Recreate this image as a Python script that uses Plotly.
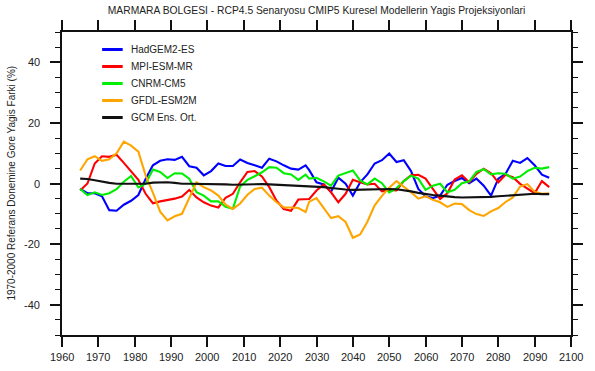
import plotly.graph_objects as go

# Centred 10-year running means, 1965-2094
years = list(range(1965, 2028, 2)) + list(range(2028, 2095, 2))

hadgem2_es = [-1.8, -3.2, -3.2, -4.2, -8.8, -9.0, -7.0, -5.7, -3.8, 1.5, 6.0, 7.5, 8.0, 7.8, 8.8, 5.7,
              5.2, 2.7, 4.1, 6.6, 5.8, 5.8, 7.9, 6.8, 6.0, 5.2, 8.2, 7.3, 6.0, 4.9, 4.6, 6.0,
              4.4, 0.4, -0.3, -2.7, 1.9, -0.1, -4.0, 0.4, 3.0, 6.6, 7.7, 9.9, 7.1, 7.7, 4.1, -1.8,
              -4.2, -4.8, -4.0, -0.4, 0.8, 1.8, 0.1, 1.6, -0.7, -4.0, 1.6, 3.2, 7.5, 6.8, 8.4, 6.0,
              2.9, 1.9]
mpi_esm_mr = [-2.3, 0.0, 6.6, 9.0, 8.8, 9.5, 6.8, 4.0, 1.2, -3.4, -6.5, -5.9, -5.5, -5.0, -4.3, -2.1,
              -4.6, -6.2, -7.3, -7.9, -4.7, -3.4, 0.4, 3.8, 4.1, 2.3, -1.2, -5.7, -8.4, -9.0, -5.3, -5.0,
              -5.1, -2.3, -0.3, -2.9, -6.2, -3.4, 1.2, 0.4, -0.3, -0.1, -2.6, -2.1, -2.3, 0.8, 2.7, 2.9,
              1.6, -1.8, -5.1, -3.2, 1.3, 2.7, 0.4, 3.2, 4.9, 3.4, 0.4, 2.9, 2.1, -0.1, -1.8, -3.2,
              0.8, -1.2]
cnrm_cm5 = [-1.8, -3.8, -2.9, -3.8, -3.2, -1.9, 0.6, 2.5, -1.3, -0.1, 4.6, 3.8, 1.8, 3.4, 3.3, 1.6,
            -2.9, -4.0, -5.9, -5.9, -7.7, -8.3, -1.0, 1.2, 2.4, 3.7, 5.4, 5.2, 3.4, 3.0, 1.2, 2.9,
            1.6, 1.9, 0.7, -0.7, 2.6, 3.4, 4.3, 1.0, -0.3, 1.6, 0.1, -2.9, -1.6, 0.8, 2.6, 1.6,
            -2.1, -0.7, -0.1, -2.9, -2.1, 0.1, 0.7, 3.8, 4.7, 3.0, 3.4, 3.2, 1.6, 2.3, 4.1, 5.2,
            4.9, 5.4]
gfdl_esm2m = [4.3, 8.0, 9.0, 7.5, 8.0, 10.0, 13.8, 12.5, 10.5, 2.7, -3.0, -9.3, -12.2, -10.8, -10.0, -4.6,
              0.4, -1.2, -2.3, -4.0, -7.0, -8.4, -6.6, -3.7, -1.8, -1.4, -4.0, -6.2, -7.9, -7.9, -8.1, -9.4,
              -6.0, -4.8, -7.9, -11.4, -10.8, -12.7, -17.9, -16.8, -12.6, -7.2, -4.1, -1.4, 0.8, -1.0, -2.9, -5.0,
              -4.2, -5.4, -6.2, -7.7, -6.6, -6.8, -8.8, -10.1, -10.7, -9.2, -8.1, -6.1, -4.6, -1.0, -0.2, -2.7,
              -3.4, -3.2]
gcm_ens_mean = [1.6, 1.5, 1.1, 0.6, 0.2, -0.1, -0.1, -0.1, -0.1, -0.1, 0.3, 0.4, 0.4, 0.2, -0.1, -0.1,
                -0.1, -0.1, -0.2, -0.2, -0.3, -0.4, -0.3, -0.2, -0.2, -0.2, -0.3, -0.4, -0.5, -0.6, -0.7, -0.9,
                -1.0, -1.1, -1.2, -1.5, -1.8, -2.0, -2.1, -2.0, -1.9, -1.8, -1.8, -1.8, -1.9, -2.2, -2.6, -3.1,
                -3.5, -3.8, -4.0, -4.3, -4.5, -4.6, -4.6, -4.6, -4.5, -4.4, -4.2, -4.0, -3.8, -3.6, -3.4, -3.4,
                -3.5, -3.5]

series_names = ["HadGEM2-ES", "MPI-ESM-MR", "CNRM-CM5", "GFDL-ESM2M", "GCM Ens. Ort."]
series_values = [hadgem2_es, mpi_esm_mr, cnrm_cm5, gfdl_esm2m, gcm_ens_mean]
series_colors = ["#0000ff", "#ff0000", "#00ee00", "#ffa500", "#111111"]

x_ticks = list(range(1960, 2101, 10))
x_tick_labels = [str(v) for v in x_ticks]
y_ticks = [-40, -20, 0, 20, 40]
y_tick_labels = ["-40", "-20", "0", "20", "40"]
x_range = [1960, 2100]
y_range = [-50, 50]

title_text = "MARMARA BOLGESI - RCP4.5 Senaryosu CMIP5 Kuresel Modellerin Yagis Projeksiyonlari"
y_title = "1970-2000 Referans Donemine Gore Yagis Farki (%)"

W, H = 595, 371
ML, MR, MT, MB = 62, 13, 32, 36
PW, PH = W - ML - MR, H - MT - MB
FONT = "Liberation Sans, Arial, Helvetica, sans-serif"
INK = "#222222"
FRAME = "#111111"


def px_x(px):
    return (px - ML) / PW


def px_y(py):
    return (H - MB - py) / PH


fig = go.Figure()
for name, vals, col in zip(series_names, series_values, series_colors):
    fig.add_trace(go.Scatter(x=years, y=vals, mode="lines", name=name,
                             line=dict(color=col, width=2.1), showlegend=False))

# hand-placed legend block in the upper-left corner of the frame
shapes, annotations = [], []
for i, (name, col) in enumerate(zip(series_names, series_colors)):
    yy = px_y(49.5 + 17 * i)
    shapes.append(dict(type="line", xref="paper", yref="paper",
                       x0=px_x(103), x1=px_x(124), y0=yy, y1=yy,
                       line=dict(color=col, width=3)))
    annotations.append(dict(xref="paper", yref="paper", x=px_x(130), y=yy,
                            text=name, showarrow=False, xanchor="left", yanchor="middle",
                            font=dict(family=FONT, size=10, color=INK)))

# tick labels set a little further from the frame than the default spacing
tick_font = dict(family=FONT, size=11, color=INK)
for v, lab in zip(x_ticks, x_tick_labels):
    annotations.append(dict(xref="x", yref="paper", x=v, y=px_y(356.5), text=lab,
                            showarrow=False, xanchor="center", yanchor="middle",
                            font=tick_font))
for v, lab in zip(y_ticks, y_tick_labels):
    annotations.append(dict(xref="paper", yref="y", x=px_x(41.5), y=v, text=lab,
                            showarrow=False, xanchor="right", yanchor="middle",
                            font=tick_font))

annotations.append(dict(xref="paper", yref="paper", x=px_x(10), y=0.5,
                        text=y_title, textangle=-90, showarrow=False,
                        xanchor="center", yanchor="middle",
                        font=dict(family=FONT, size=10, color=INK)))

axis_common = dict(showline=True, linewidth=2, linecolor=FRAME, mirror="ticks",
                   ticks="outside", ticklen=10, tickwidth=1.6, tickcolor=FRAME,
                   showgrid=False, zeroline=False, showticklabels=False)
y_minor = dict(dtick=5, tick0=0, ticks="outside", ticklen=5, tickwidth=1.4,
               tickcolor=FRAME, showgrid=False)

fig.update_layout(
    width=W, height=H,
    margin=dict(l=ML, r=MR, t=MT, b=MB),
    paper_bgcolor="white", plot_bgcolor="white",
    title=dict(text=title_text, x=px_x(322), xref="paper", xanchor="center",
               y=1 - 10 / H, yref="container", yanchor="middle",
               font=dict(family=FONT, size=10.3, color=INK)),
    xaxis=dict(range=x_range, tickvals=x_ticks, **axis_common),
    yaxis=dict(range=y_range, tickvals=y_ticks, minor=y_minor, **axis_common),
    shapes=shapes, annotations=annotations,
    showlegend=False,
)

fig.write_html("out.html")
